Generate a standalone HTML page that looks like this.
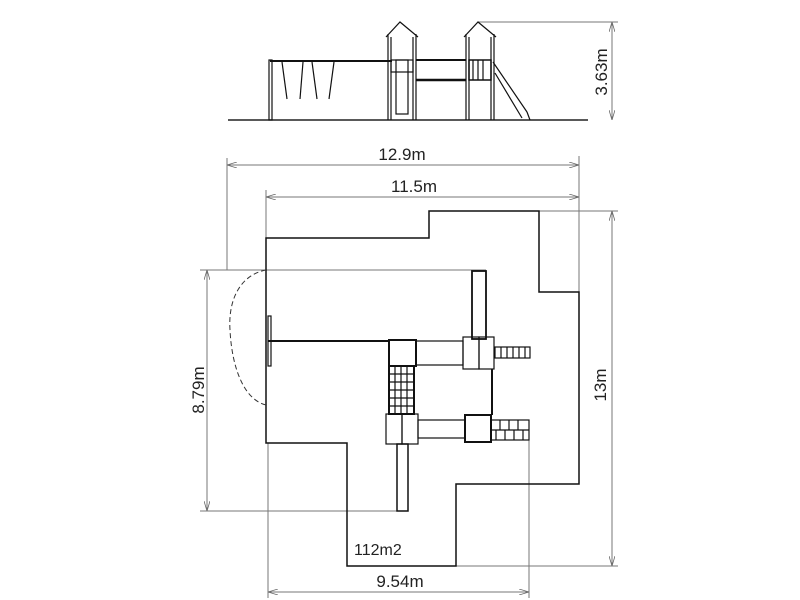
<!DOCTYPE html>
<html><head><style>body{margin:0;background:#fff}svg{display:block}text{font-family:"Liberation Sans Narrow","Liberation Sans",sans-serif;fill:#222}</style></head><body>
<svg width="800" height="600" viewBox="0 0 800 600">
<defs><marker id="a" markerWidth="10" markerHeight="6" refX="10" refY="3" orient="auto-start-reverse" markerUnits="userSpaceOnUse"><path d="M0,0 L10,3 L0,6" fill="none" stroke="#666" stroke-width="0.8"/></marker></defs>
<g stroke="#777" stroke-width="1" fill="none">
<line x1="228" y1="120" x2="588" y2="120" stroke="#222" stroke-width="1.5"/>
<line x1="478" y1="22" x2="618" y2="22"/>
<line x1="612" y1="22" x2="612" y2="120" marker-start="url(#a)" marker-end="url(#a)"/>
<line x1="227" y1="158" x2="227" y2="270"/>
<line x1="579" y1="156" x2="579" y2="292"/>
<line x1="227" y1="165" x2="579" y2="165" marker-start="url(#a)" marker-end="url(#a)"/>
<line x1="266" y1="190" x2="266" y2="238"/>
<line x1="266" y1="197" x2="579" y2="197" marker-start="url(#a)" marker-end="url(#a)"/>
<line x1="539" y1="211" x2="618" y2="211"/>
<line x1="456" y1="566" x2="618" y2="566"/>
<line x1="612" y1="211" x2="612" y2="566" marker-start="url(#a)" marker-end="url(#a)"/>
<line x1="200" y1="270" x2="486" y2="270"/>
<line x1="200" y1="511" x2="408" y2="511"/>
<line x1="207" y1="270" x2="207" y2="511" marker-start="url(#a)" marker-end="url(#a)"/>
<line x1="268" y1="443" x2="268" y2="598"/>
<line x1="529" y1="420" x2="529" y2="598"/>
<line x1="268" y1="592" x2="529" y2="592" marker-start="url(#a)" marker-end="url(#a)"/>
</g>
<g stroke="#111" fill="none" stroke-width="1.2">
<line x1="270" y1="61" x2="392" y2="61" stroke-width="2"/>
<rect x="269" y="60" width="3" height="60"/>
<line x1="282" y1="62" x2="287" y2="99"/><line x1="303" y1="62" x2="300" y2="99"/>
<line x1="312" y1="62" x2="317" y2="99"/><line x1="334" y1="62" x2="329" y2="99"/>
<path d="M386,37 L400,22 L418,37 M388,34 V120 M391,37 V120 M413,37 V120 M416,34 V120"/>
<path d="M464,37 L478,22 L496,37 M466,34 V120 M469,37 V120 M491,37 V120 M494,34 V120"/>
<rect x="391" y="60" width="22" height="12"/><rect x="396" y="60" width="12" height="54"/>
<line x1="416" y1="60" x2="466" y2="60" stroke-width="2"/><line x1="416" y1="80" x2="466" y2="80" stroke-width="2.5"/>
<rect x="469" y="60" width="22" height="20" stroke-width="1.5"/><path d="M473,60V80M478,60V80M483,60V80"/>
<path d="M493,62 L527,112 M495,73 L522,118 M527,112 L530,120"/>
<path d="M266,238 H429 V211 H539 V292 H579 V484 H456 V566 H347 V443 H266 Z" stroke-width="1.5"/>
<path d="M266,270 C240,275 228,300 230,330 C232,370 245,400 266,405" stroke="#333" stroke-dasharray="5,3" stroke-width="1"/>
<line x1="268" y1="341" x2="390" y2="341" stroke-width="2"/>
<rect x="268" y="316" width="3" height="50"/>
<rect x="472" y="271" width="14" height="68" stroke-width="1.8"/>
<rect x="389" y="340" width="27" height="26" stroke-width="2"/>
<rect x="416" y="341" width="47" height="24"/>
<rect x="463" y="337" width="16" height="32"/><rect x="479" y="337" width="15" height="32"/>
<rect x="495" y="347" width="35" height="11"/><path d="M501,347V358M507,347V358M513,347V358M519,347V358M525,347V358"/>
<rect x="389" y="366" width="25" height="48" stroke-width="2"/>
<path d="M395,366V414M401,366V414M407,366V414M389,374H414M389,382H414M389,390H414M389,398H414M389,406H414"/>
<rect x="386" y="414" width="16" height="30"/><rect x="402" y="414" width="16" height="30"/>
<rect x="418" y="420" width="47" height="18"/>
<rect x="465" y="415" width="26" height="27" stroke-width="2"/>
<line x1="492" y1="369" x2="492" y2="415" stroke-width="2"/>
<rect x="491" y="420" width="38" height="20"/><path d="M491,430H529M500,420V430M509,420V430M518,420V430M496,430V440M505,430V440M514,430V440M523,430V440"/>
<rect x="397" y="444" width="11" height="67" stroke-width="1.5"/>
</g>
<g font-size="17">
<text x="402" y="160" text-anchor="middle">12.9m</text>
<text x="414" y="192" text-anchor="middle">11.5m</text>
<text x="400" y="587" text-anchor="middle">9.54m</text>
<text transform="translate(606,385) rotate(-90)" text-anchor="middle">13m</text>
<text transform="translate(204,390) rotate(-90)" text-anchor="middle">8.79m</text>
<text transform="translate(607,72) rotate(-90)" text-anchor="middle">3.63m</text>
</g>
<text x="354" y="555" font-size="16" style="font-family:'Liberation Sans',sans-serif">112m2</text>
</svg>
</body></html>
